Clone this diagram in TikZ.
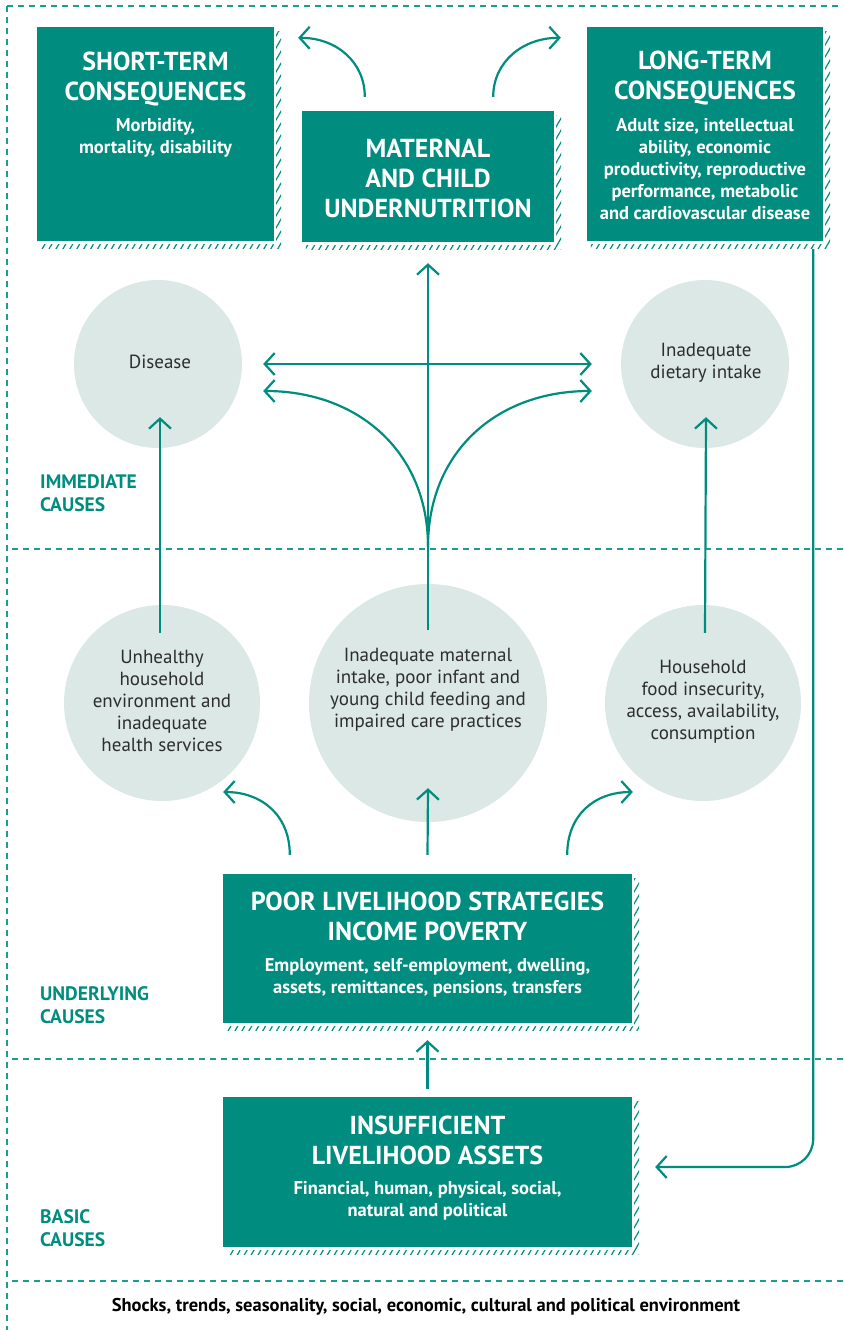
\documentclass[tikz,border=0pt]{standalone}
\usepackage{fontspec}
\setmainfont{PT Sans}
\usetikzlibrary{arrows.meta,patterns.meta,calc}
\definecolor{teal1}{RGB}{0,140,126}
\definecolor{dashc}{RGB}{28,158,143}
\definecolor{circ}{RGB}{220,232,229}
\definecolor{ctext}{RGB}{45,45,45}
\pgfdeclarelayer{background}
\pgfsetlayers{background,main}
\begin{document}
\begin{tikzpicture}[x=1pt,y=-1pt,
  box/.style={fill=teal1, draw=none, inner sep=0pt},
  bubble/.style={circle, fill=circ, draw=none, inner sep=0pt},
  ttl/.style={text=white, align=center, font=\fontsize{26}{30}\selectfont\bfseries},
  sub/.style={text=white, align=center, font=\fontsize{18.5}{22}\selectfont\bfseries},
  ctxt/.style={text=ctext, align=center, font=\fontsize{19}{22}\selectfont},
  lvl/.style={text=teal1, align=left, anchor=west, inner sep=0pt, font=\fontsize{19.5}{23}\selectfont\bfseries},
  conn/.style={draw=teal1, line width=2.2pt, -{Straight Barb[length=10pt,width=22pt]}},
  dline/.style={draw=dashc, line width=2pt, dash pattern=on 6pt off 5pt},
  hatch/.style={pattern={Lines[angle=60,distance=6pt,line width=1.2pt]}, pattern color=teal1}
]
\useasboundingbox (0,0) rectangle (843,1330);

% dashed frame
\draw[dline] (7,6) -- (843,6);
\draw[dline] (7,6) -- (7,1330);
\draw[dline] (12,549) -- (843,549);
\draw[dline] (12,1059) -- (843,1059);
\draw[dline] (12,1281) -- (843,1281);

% boxes
\node[box, minimum width=237pt, minimum height=214pt] (st) at (155.5,134) {};
\node[box, minimum width=252pt, minimum height=131pt] (mcu) at (428,176.5) {};
\node[box, minimum width=236pt, minimum height=214pt] (lt) at (705,134) {};
\node[box, minimum width=409pt, minimum height=149pt] (plv) at (427.5,948.5) {};
\node[box, minimum width=409pt, minimum height=150pt] (ins) at (427.5,1172) {};

\begin{pgfonlayer}{background}
\foreach \b in {st,mcu,lt,plv,ins}{
  \path[hatch] ($(\b.north west)+(4,5)$) rectangle ($(\b.south east)+(7,7)$);
  \fill[white] (\b.north west) rectangle ($(\b.south east)+(2,3)$);
}
\end{pgfonlayer}

% box texts
\node[ttl] (stt) at (155.5,79) {SHORT-TERM\\CONSEQUENCES};
\node[sub] (sts) at (155.5,137.5) {Morbidity,\\mortality, disability};
\node[ttl] (mcut) at (428,178) {MATERNAL\\AND CHILD\\UNDERNUTRITION};
\node[ttl] (ltt) at (705,78) {LONG-TERM\\CONSEQUENCES};
\node[sub] (lts) at (705,169) {Adult size, intellectual\\ability, economic\\productivity, reproductive\\performance, metabolic\\and cardiovascular disease};
\node[ttl] (plvt) at (427.5,916.5) {POOR LIVELIHOOD STRATEGIES\\INCOME POVERTY};
\node[sub] (plvs) at (427.5,977.5) {Employment, self-employment, dwelling,\\assets, remittances, pensions, transfers};
\node[ttl] (inst) at (427.5,1140.5) {INSUFFICIENT\\LIVELIHOOD ASSETS};
\node[sub] (inss) at (427.5,1200.5) {Financial, human, physical, social,\\natural and political};

% circles
\node[bubble, minimum size=168pt] (dis) at (158,364) {};
\node[bubble, minimum size=168pt] (die) at (705,364) {};
\node[bubble, minimum size=196pt] (unh) at (162,703) {};
\node[bubble, minimum size=238pt] (cen) at (428,703) {};
\node[bubble, minimum size=196pt] (hfi) at (703,703) {};

\node[ctxt] (dist) at (160,362) {Disease};
\node[ctxt] (diet) at (706,363) {Inadequate\\dietary intake};
\node[ctxt] (unht) at (162,701) {Unhealthy\\household\\environment and\\inadequate\\health services};
\node[ctxt] (cent) at (428,690) {Inadequate maternal\\intake, poor infant and\\young child feeding and\\impaired care practices};
\node[ctxt] (hfit) at (703,701.5) {Household\\food insecurity,\\access, availability,\\consumption};

% level labels
\node[lvl] (l1) at (40,493.5) {IMMEDIATE\\CAUSES};
\node[lvl] (l2) at (40,1005) {UNDERLYING\\CAUSES};
\node[lvl] (l3) at (40,1228.5) {BASIC\\CAUSES};

\node[text=black, font=\fontsize{18.5}{20}\selectfont\bfseries] (env) at (426,1307) {Shocks, trends, seasonality, social, economic, cultural and political environment};

% connectors
\draw[conn] ($(mcu.north west)+(63,-14)$) .. controls +(0,-35) and +(38,0) .. ($(st.north east)+(24,11)$);
\draw[conn] ($(mcu.north east)+(-61,-14)$) .. controls +(0,-35) and +(-38,0) .. ($(lt.north west)+(-26,11)$);

\draw[conn] ($(cen.north)+(0,46)$) -- ($(mcu.south)+(0,21)$);
\draw[conn, {Straight Barb[length=10pt,width=22pt]}-{Straight Barb[length=10pt,width=22pt]}] ($(dis.east)+(21,0)$) -- ($(die.west)+(-29,0)$);
\draw[conn] ($(cen.north)+(0,-37)$) .. controls +(0,-95) and +(95,0) .. ($(dis.east)+(21,27)$);
\draw[conn] ($(cen.north)+(0,-37)$) .. controls +(0,-95) and +(-95,0) .. ($(die.west)+(-29,27)$);

\draw[conn] ($(unh.north)+(-2,28)$) -- ($(dis.south)+(2,-31)$);
\draw[conn] ($(hfi.north)+(2,28)$) -- ($(die.south)+(1,-31)$);

\draw[conn] ($(plv.north west)+(67,-19)$) .. controls +(0,-40) and +(38,0) .. ($(unh.east)+(-37,89)$);
\draw[conn] ($(plv.north east)+(-65,-19)$) .. controls +(0,-40) and +(-38,0) .. ($(hfi.west)+(28,89)$);
\draw[conn] ($(plv.north)+(0,-19)$) -- ($(cen.south)+(0,-34)$);

\draw[conn] ($(ins.north)+(0,-8)$) -- ($(plv.south)+(0,17)$);
\draw[conn, rounded corners=28pt] ($(lt.south east)+(-10,8)$) |- ($(ins.east)+(23,-5)$);
\end{tikzpicture}
\end{document}
